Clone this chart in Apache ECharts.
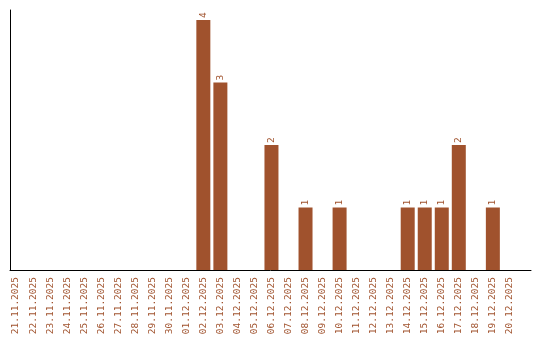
<!DOCTYPE html>
<html>
<head>
<meta charset="utf-8">
<script src="https://cdn.jsdelivr.net/npm/echarts@6/dist/echarts.min.js"></script>
<style>html,body{margin:0;padding:0;background:#fff;}#c{width:540px;height:340px;}</style>
</head>
<body>
<div id="c"></div>
<script>
var categories = ['21.11.2025','22.11.2025','23.11.2025','24.11.2025','25.11.2025','26.11.2025','27.11.2025','28.11.2025','29.11.2025','30.11.2025','01.12.2025','02.12.2025','03.12.2025','04.12.2025','05.12.2025','06.12.2025','07.12.2025','08.12.2025','09.12.2025','10.12.2025','11.12.2025','12.12.2025','13.12.2025','14.12.2025','15.12.2025','16.12.2025','17.12.2025','18.12.2025','19.12.2025','20.12.2025'];
var values = [0,0,0,0,0,0,0,0,0,0,0,4,3,0,0,2,0,1,0,1,0,0,0,1,1,1,2,0,1,0];
var yMax = 4.16;

var color = '#A0522D';
var font = 'DejaVu Sans Mono';
var chart = echarts.init(document.getElementById('c'), null, {renderer: 'canvas'});
chart.setOption({
  animation: false,
  backgroundColor: '#fff',
  grid: [
    {left: 7.5, right: 21.6, top: 10, bottom: 70},
    {left: 10, right: 9, top: 10, bottom: 70}
  ],
  xAxis: [
    {
      gridIndex: 0, type: 'category', data: categories, boundaryGap: true,
      axisLine: {show: false}, axisTick: {show: false}, splitLine: {show: false},
      axisLabel: {interval: 0, rotate: 90, margin: 7, color: color, fontFamily: font, fontSize: 9.5}
    },
    {
      gridIndex: 1, type: 'value', min: 0, max: 1,
      axisLine: {show: true, lineStyle: {color: '#000', width: 1}},
      axisTick: {show: false}, axisLabel: {show: false}, splitLine: {show: false}
    }
  ],
  yAxis: [
    {
      gridIndex: 0, type: 'value', min: 0, max: yMax,
      axisLine: {show: false}, axisTick: {show: false}, axisLabel: {show: false}, splitLine: {show: false}
    },
    {
      gridIndex: 1, type: 'value', min: 0, max: yMax,
      axisLine: {show: true, lineStyle: {color: '#000', width: 1}},
      axisTick: {show: false}, axisLabel: {show: false}, splitLine: {show: false}
    }
  ],
  series: [{
    type: 'bar', xAxisIndex: 0, yAxisIndex: 0,
    data: values, barWidth: 14,
    itemStyle: {color: color},
    label: {
      show: true, position: 'top', rotate: 90, distance: 2,
      align: 'left', verticalAlign: 'middle',
      color: color, fontFamily: font, fontSize: 9.5,
      formatter: function (p) { return p.value ? String(p.value) : ''; }
    }
  }]
});
</script>
</body>
</html>
